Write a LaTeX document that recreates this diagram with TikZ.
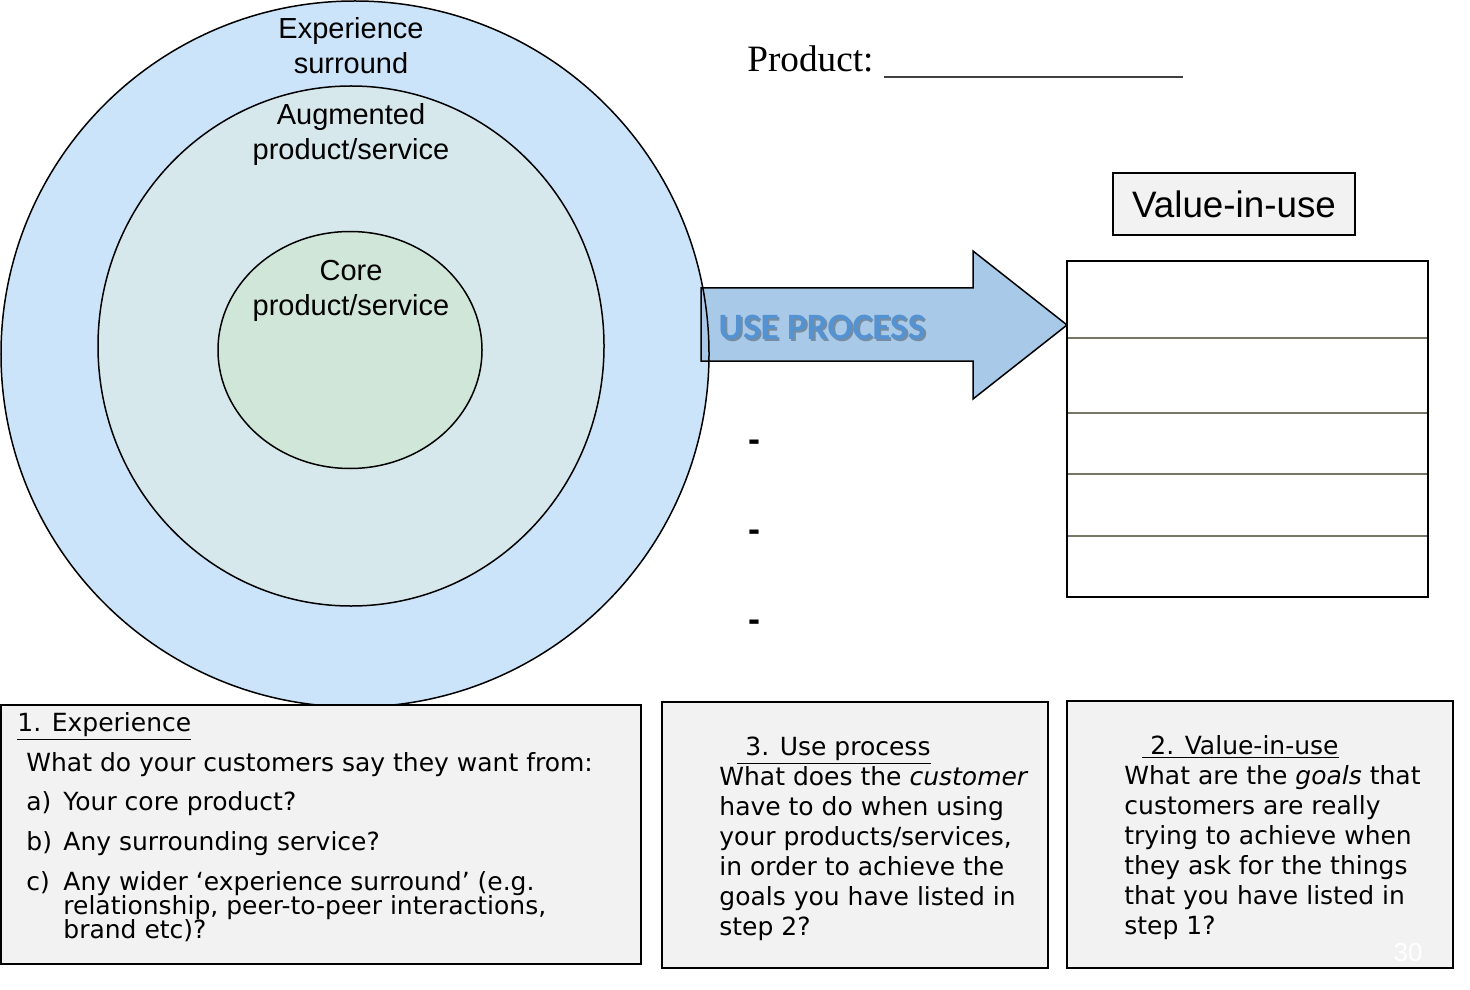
\documentclass[tikz,border=0pt]{standalone}
\usepackage{fontspec}
\setmainfont{Liberation Sans}
\newfontfamily\verd{DejaVu Sans}
\newfontfamily\tnr{Liberation Serif}
\newfontfamily\calib{Carlito}
\usetikzlibrary{shapes.geometric}
\definecolor{outerblue}{RGB}{204,228,250}
\definecolor{midcol}{RGB}{215,232,236}
\definecolor{innercol}{RGB}{208,230,217}
\definecolor{arrowfill}{RGB}{168,201,232}
\definecolor{usetext}{RGB}{84,146,210}
\definecolor{boxgray}{RGB}{242,242,242}
\definecolor{rowline}{RGB}{118,117,102}
\tikzset{
  ring/.style={ellipse, draw=black, line width=0.75pt, inner sep=0pt},
  ringlabel/.style={align=center, font=\fontsize{14.5}{17.5}\selectfont},
  qbox/.style={rectangle, draw=black, line width=1pt, fill=boxgray, inner sep=0pt},
  qtext/.style={anchor=base west, inner sep=0pt, font=\verd\fontsize{12.5}{15}\selectfont},
  dashmark/.style={font=\bfseries\fontsize{18}{20}\selectfont, inner sep=0pt}
}
\begin{document}
\begin{tikzpicture}[x=0.5pt,y=-0.5pt]
\useasboundingbox (0,0) rectangle (1470,989);
% circles
\node[ring, fill=outerblue, minimum width=354pt, minimum height=353pt] (outer) at (355,354) {};
\node[ring, fill=midcol, minimum width=253pt, minimum height=260pt] (middle) at (351,346) {};
\node[ring, fill=innercol, minimum width=132pt, minimum height=118.5pt] (inner) at (350,350) {};
\node[ringlabel] (lexp) at (351,46) {Experience\\surround};
\node[ringlabel] (laug) at (351,135) {Augmented\\product/service};
\node[ringlabel] (lcore) at (351,291) {Core\\product/service};
% arrow
\draw[fill=arrowfill, line width=0.75pt] (701,288) -- (973,288) -- (973,251) -- (1067,325) -- (973,399) -- (973,361) -- (701,361) -- cycle;
\begin{scope}
\clip (701,288) rectangle (760,361);
\draw[line width=0.75pt] (355,354) ellipse [x radius=354, y radius=353];
\end{scope}
\node[font=\calib\bfseries\fontsize{18.6}{20}\selectfont, text=black, opacity=0.3, inner sep=0pt] (useshadow) at (824,329) {USE PROCESS};
\node[font=\calib\bfseries\fontsize{18.6}{20}\selectfont, text=usetext, inner sep=0pt] (usep) at (822,327) {USE PROCESS};
% table
\draw[line width=1pt] (1067,261) rectangle (1428,597);
\foreach \yy in {338,413,474,536} {
  \draw[rowline, line width=1pt] (1068,\yy) -- (1427,\yy);
}
% value box
\node[qbox, minimum width=121pt, minimum height=31pt, font=\fontsize{18.4}{20}\selectfont] (viu) at (1234,204) {Value-in-use};
% product
\node[anchor=base west, inner sep=0pt, font=\tnr\fontsize{18.6}{20}\selectfont] (prod) at (747,72) {Product:};
\coordinate (ul1) at (884,77);
\coordinate (ul2) at (1183,77);
\draw[black!75, line width=1pt] (ul1) -- (ul2);
% dashes
\node[dashmark] (d1) at (754,446) {-};
\node[dashmark] (d2) at (754,536) {-};
\node[dashmark] (d3) at (754,626) {-};
% bottom boxes
\node[qbox, minimum width=320pt, minimum height=129.5pt] (b1) at (321,834.5) {};
\node[qbox, minimum width=193pt, minimum height=133pt] (b3) at (855,835) {};
\node[qbox, minimum width=193pt, minimum height=133.5pt] (b2) at (1260,834.5) {};
% box 1 text
\node[qtext] (b1h) at (17,731) {\underline{1. Experience}};
\node[qtext] (b1l1) at (26,771) {What do your customers say they want from:};
\node[qtext] (b1a) at (26,810) {a)};
\node[qtext] (b1at) at (63,810) {Your core product?};
\node[qtext] (b1b) at (26,850) {b)};
\node[qtext] (b1bt) at (63,850) {Any surrounding service?};
\node[qtext] (b1c) at (26,890) {c)};
\node[qtext] (b1ct) at (63,890) {Any wider ‘experience surround’ (e.g.};
\node[qtext] (b1c2) at (63,914) {relationship, peer-to-peer interactions,};
\node[qtext] (b1c3) at (63,938) {brand etc)?};
% box 3 text
\node[qtext] (b3h) at (737,755) {\underline{\ 3. Use process}};
\node[qtext] (b3l1) at (719,785) {What does the \textit{customer}};
\node[qtext] (b3l2) at (719,815) {have to do when using};
\node[qtext] (b3l3) at (719,845) {your products/services,};
\node[qtext] (b3l4) at (719,875) {in order to achieve the};
\node[qtext] (b3l5) at (719,905) {goals you have listed in};
\node[qtext] (b3l6) at (719,935) {step 2?};
% box 2 text
\node[qtext] (b2h) at (1142,754) {\underline{\ 2. Value-in-use}};
\node[qtext] (b2l1) at (1124,784) {What are the \textit{goals} that};
\node[qtext] (b2l2) at (1124,814) {customers are really};
\node[qtext] (b2l3) at (1124,844) {trying to achieve when};
\node[qtext] (b2l4) at (1124,874) {they ask for the things};
\node[qtext] (b2l5) at (1124,904) {that you have listed in};
\node[qtext] (b2l6) at (1124,934) {step 1?};
\node[text=white, font=\fontsize{13}{15}\selectfont, inner sep=0pt] (pg) at (1408,953) {30};
\end{tikzpicture}
\end{document}
